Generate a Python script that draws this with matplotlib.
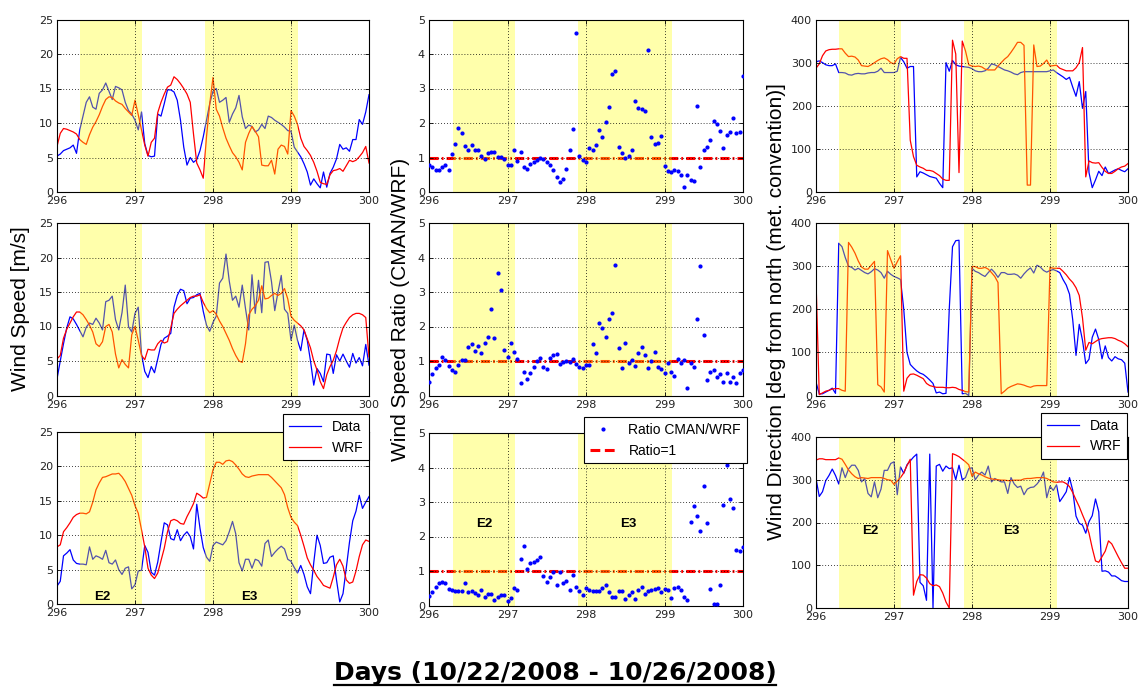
import numpy as np
import matplotlib
matplotlib.use('Agg')
import matplotlib.pyplot as plt
from matplotlib.lines import Line2D

W, H = 1140, 689

# hourly samples, day of year 296 -> 300
hours = np.arange(97)
days = 296 + hours / 24.0
xtick_vals = [296, 297, 298, 299, 300]
xtick_labels = ['296', '297', '298', '299', '300']

# event periods (shaded) and their names
events = [(296.3, 297.09), (297.9, 299.09)]
event_names = ['E2', 'E3']

# ---- wind speed [m/s] : CMAN data / WRF, three stations ----
spd_data_1 = [5.2, 5.5, 6.0, 6.2, 6.4, 6.8, 5.6, 9.0, 11.0, 13.0,
              13.8, 12.3, 12.0, 14.3, 14.8, 15.8, 14.6, 13.4, 15.3, 15.1,
              14.8, 13.0, 11.8, 11.3, 10.4, 9.0, 11.6, 7.0, 5.3, 5.1,
              5.2, 11.3, 11.0, 12.8, 14.8, 14.8, 14.5, 13.3, 10.4, 6.5,
              3.9, 5.0, 4.3, 4.7, 6.0, 8.0, 10.4, 12.8, 14.6, 15.0,
              13.0, 13.3, 13.7, 10.1, 11.3, 12.2, 14.0, 10.9, 9.2, 9.7,
              9.5, 8.7, 9.0, 9.8, 9.2, 11.0, 10.8, 10.4, 10.1, 9.8,
              9.4, 8.9, 8.8, 6.5, 5.8, 5.1, 4.1, 2.9, 1.0, 1.9,
              1.2, 0.6, 2.9, 0.7, 2.7, 3.6, 4.8, 6.9, 6.2, 6.4,
              5.9, 7.6, 7.6, 10.5, 9.8, 11.6, 14.1]
spd_wrf_1 = [6.6, 8.5, 9.2, 9.1, 8.9, 8.7, 8.4, 7.6, 7.2, 6.9,
             8.3, 9.4, 10.2, 11.2, 12.4, 13.4, 13.8, 13.7, 13.2, 12.9,
             12.7, 12.1, 11.6, 11.1, 13.3, 11.2, 9.0, 6.8, 5.2, 7.2,
             7.8, 11.5, 13.0, 14.2, 15.2, 15.5, 16.7, 16.3, 15.7, 15.0,
             14.2, 13.0, 8.4, 4.2, 3.2, 2.0, 8.0, 12.8, 16.6, 12.0,
             11.0, 9.3, 7.8, 6.7, 5.7, 5.1, 4.3, 3.2, 7.2, 8.5,
             9.5, 8.8, 8.0, 3.9, 3.8, 3.8, 4.6, 2.6, 6.2, 6.8,
             6.6, 5.5, 11.8, 11.0, 9.8, 7.8, 6.6, 6.0, 5.3, 4.3,
             3.0, 1.4, 1.2, 1.1, 2.5, 3.1, 3.2, 3.4, 3.0, 3.8,
             4.6, 4.4, 4.6, 5.1, 5.7, 6.6, 4.2]
spd_data_2 = [2.4, 5.0, 7.5, 9.8, 11.4, 11.1, 10.3, 9.4, 8.5, 9.9,
              10.5, 10.3, 11.2, 10.5, 9.5, 13.6, 13.8, 14.4, 11.0, 9.5,
              12.0, 16.0, 10.0, 9.2, 11.9, 12.8, 6.0, 3.5, 2.6, 4.2,
              3.3, 5.3, 7.4, 8.3, 8.6, 9.0, 12.8, 14.5, 15.4, 15.2,
              13.3, 14.1, 14.2, 14.6, 14.8, 12.2, 10.2, 9.3, 10.6, 11.5,
              16.3, 17.0, 20.5, 16.6, 13.8, 14.4, 12.8, 16.0, 12.6, 9.5,
              17.5, 11.9, 16.7, 12.0, 19.3, 19.4, 16.5, 12.3, 15.0, 17.4,
              12.5, 11.9, 8.0, 10.2, 8.0, 6.5, 9.5, 8.0, 5.0, 1.5,
              3.9, 3.2, 2.0, 6.0, 5.9, 3.2, 5.9, 5.0, 6.0, 5.0,
              4.1, 6.1, 4.7, 5.5, 4.3, 7.4, 4.4]
spd_wrf_2 = [5.3, 5.8, 8.3, 9.6, 10.5, 11.4, 12.1, 12.1, 11.7, 11.0,
             10.2, 9.2, 7.5, 7.1, 7.8, 10.0, 10.3, 9.2, 6.0, 4.0,
             5.2, 4.5, 4.0, 8.8, 10.0, 8.0, 5.8, 5.2, 6.7, 6.6,
             6.6, 7.5, 8.0, 7.6, 7.8, 9.8, 11.9, 12.5, 13.0, 13.4,
             13.8, 14.2, 14.4, 14.4, 14.6, 13.5, 12.6, 12.0, 12.3, 11.8,
             10.8, 10.0, 9.0, 8.0, 6.8, 5.8, 5.0, 4.8, 7.5, 11.7,
             12.5, 13.0, 13.8, 15.9, 14.0, 14.1, 14.5, 14.8, 14.5, 14.8,
             15.5, 14.0, 11.5, 10.9, 10.5, 10.1, 9.5, 8.2, 6.9, 5.0,
             3.7, 2.0, 1.0, 3.0, 4.2, 5.1, 6.5, 8.3, 9.8, 10.6,
             11.3, 11.7, 11.9, 11.9, 11.7, 11.3, 5.6]
spd_data_3 = [2.6, 3.3, 7.0, 7.4, 7.9, 6.4, 5.9, 5.8, 5.8, 5.7,
              8.3, 6.5, 7.0, 6.8, 6.5, 7.8, 6.0, 5.8, 6.4, 5.0,
              4.3, 5.2, 5.4, 2.2, 2.8, 4.8, 4.9, 8.5, 7.5, 4.6,
              4.2, 6.1, 9.0, 11.8, 11.5, 9.5, 9.3, 10.8, 9.2, 10.0,
              10.5, 9.8, 8.0, 14.5, 11.0, 8.2, 6.8, 6.2, 8.5, 9.0,
              8.8, 8.6, 9.2, 10.5, 12.0, 10.2, 6.0, 4.8, 6.5, 6.5,
              5.2, 6.5, 6.3, 5.5, 8.8, 9.3, 6.9, 7.5, 8.0, 8.4,
              8.0, 6.5, 6.2, 5.3, 4.5, 5.6, 4.3, 2.5, 1.5, 6.0,
              10.0, 8.5, 5.9, 6.0, 6.8, 7.0, 3.5, 0.3, 1.5, 5.2,
              9.0, 12.1, 13.5, 15.8, 13.9, 14.8, 15.6]
spd_wrf_3 = [8.3, 8.6, 10.5, 11.1, 11.8, 12.6, 13.0, 13.2, 13.2, 13.1,
             13.4, 14.8, 16.6, 17.6, 18.4, 18.5, 18.7, 18.9, 18.9, 19.0,
             18.5, 17.8, 16.8, 15.8, 14.3, 13.2, 10.8, 8.3, 5.2, 4.2,
             3.7, 4.5, 6.3, 8.1, 10.5, 12.1, 12.3, 12.1, 11.7, 11.6,
             12.7, 13.6, 14.6, 16.1, 15.8, 15.4, 15.5, 17.5, 19.5, 20.6,
             20.6, 20.3, 20.8, 20.9, 20.7, 20.2, 19.6, 18.9, 18.5, 18.4,
             18.6, 18.7, 18.8, 18.8, 18.8, 18.8, 18.4, 17.9, 17.4, 16.9,
             15.9, 14.0, 12.6, 11.9, 11.4, 10.0, 8.4, 6.7, 5.7, 4.9,
             4.0, 3.4, 2.7, 2.5, 2.3, 3.9, 5.7, 6.5, 5.5, 3.5,
             3.0, 3.2, 4.8, 6.9, 8.6, 9.3, 9.1]

# ---- wind speed ratio CMAN/WRF ----
ratio_1 = [0.79, 0.72, 0.65, 0.65, 0.72, 0.79, 0.65, 1.11, 1.40, 1.85,
           1.71, 1.32, 1.21, 1.35, 1.23, 1.23, 1.05, 0.96, 1.13, 1.15,
           1.15, 1.01, 1.01, 0.96, 0.77, 0.79, 1.23, 0.89, 1.15, 0.72,
           0.67, 0.80, 0.86, 0.94, 0.98, 0.97, 0.86, 0.79, 0.65, 0.43,
           0.28, 0.39, 0.67, 1.21, 1.82, 4.60, 1.03, 0.94, 0.87, 1.27,
           1.21, 1.37, 1.79, 1.59, 2.02, 2.46, 3.43, 3.52, 1.30, 1.13,
           1.00, 1.03, 1.21, 2.63, 2.43, 2.40, 2.34, 4.12, 1.59, 1.40,
           1.42, 1.63, 0.74, 0.60, 0.57, 0.63, 0.60, 0.50, 0.14, 0.48,
           0.34, 0.31, 2.50, 0.72, 1.23, 1.30, 1.50, 2.05, 1.98, 1.76,
           1.27, 1.66, 1.73, 2.14, 1.71, 1.73, 3.35]
ratio_2 = [0.38, 0.63, 0.79, 0.89, 1.13, 1.03, 0.86, 0.74, 0.69, 0.89,
           1.03, 1.03, 1.40, 1.49, 1.30, 1.44, 1.22, 1.51, 1.69, 2.52,
           1.66, 3.54, 3.07, 1.32, 1.11, 1.53, 1.27, 1.05, 0.36, 0.69,
           0.48, 0.65, 0.84, 1.01, 1.08, 0.82, 0.76, 1.08, 1.18, 1.20,
           0.91, 0.98, 1.01, 0.96, 1.05, 0.91, 0.84, 0.79, 0.89, 0.89,
           1.49, 1.24, 2.09, 1.97, 1.71, 2.21, 2.38, 3.78, 1.37, 0.79,
           1.51, 0.93, 1.03, 0.86, 1.22, 1.42, 1.18, 0.79, 1.01, 1.27,
           0.84, 0.76, 0.65, 0.95, 0.69, 0.57, 1.05, 0.95, 1.03, 0.21,
           0.93, 0.82, 2.21, 3.75, 1.75, 0.45, 0.67, 0.74, 0.53, 0.63,
           0.39, 0.65, 0.40, 0.53, 0.36, 0.65, 0.74]
ratio_3 = [0.28, 0.38, 0.53, 0.65, 0.67, 0.65, 0.48, 0.44, 0.43, 0.41,
           0.43, 0.65, 0.39, 0.43, 0.36, 0.31, 0.44, 0.26, 0.34, 0.34,
           0.16, 0.24, 0.29, 0.31, 0.12, 0.21, 0.50, 0.45, 1.35, 1.73,
           1.06, 1.23, 1.26, 1.31, 1.40, 0.86, 0.68, 0.82, 0.96, 0.60,
           0.96, 0.65, 0.70, 0.44, 0.87, 0.53, 0.41, 0.31, 0.50, 0.44,
           0.41, 0.41, 0.41, 0.50, 0.60, 0.39, 0.24, 0.26, 0.41, 0.41,
           0.19, 0.31, 0.39, 0.18, 0.44, 0.53, 0.34, 0.41, 0.44, 0.47,
           0.50, 0.39, 0.47, 0.44, 0.21, 0.50, 0.55, 0.44, 0.24, 0.16,
           2.41, 2.89, 2.58, 2.15, 3.47, 2.39, 0.47, 0.04, 0.05, 0.58,
           2.90, 4.08, 3.09, 2.82, 1.61, 1.57, 1.69]
ratio_ref = 1.0

# ---- wind direction [deg from north] ----
dir_data_1 = [302, 304, 300, 295, 293, 293, 297, 277, 277, 276,
              272, 271, 274, 275, 274, 274, 276, 277, 277, 280,
              287, 277, 277, 277, 277, 280, 312, 302, 287, 291,
              291, 35, 47, 44, 40, 36, 34, 32, 20, 10,
              300, 280, 305, 295, 292, 291, 290, 289, 286, 281,
              279, 279, 281, 287, 297, 295, 291, 287, 283, 281,
              278, 274, 272, 277, 279, 279, 279, 279, 279, 279,
              279, 279, 281, 283, 277, 272, 267, 261, 266, 243,
              222, 256, 194, 233, 45, 10, 28, 48, 38, 58,
              43, 47, 51, 54, 50, 47, 54]
dir_wrf_1 = [287, 297, 316, 327, 330, 331, 331, 332, 332, 322,
             314, 315, 313, 306, 293, 292, 291, 295, 300, 305,
             309, 311, 307, 300, 297, 309, 314, 310, 310, 120,
             82, 62, 58, 55, 50, 50, 48, 43, 38, 30,
             27, 27, 352, 320, 45, 350, 327, 295, 292, 291,
             292, 290, 285, 283, 283, 283, 292, 300, 308, 314,
             324, 335, 347, 347, 340, 16, 16, 341, 291, 292,
             298, 306, 292, 293, 294, 287, 284, 281, 281, 281,
             288, 300, 335, 35, 72, 68, 67, 68, 57, 48,
             43, 43, 48, 54, 58, 60, 66]
dir_data_2 = [31, 4, 4, 8, 12, 17, 5, 353, 345, 320,
              300, 297, 291, 295, 290, 285, 282, 287, 294, 291,
              285, 272, 288, 281, 276, 273, 269, 200, 100, 72,
              64, 57, 52, 49, 43, 36, 28, 6, 8, 4,
              5, 200, 345, 359, 360, 4, 5, 0, 295, 288,
              285, 280, 276, 285, 293, 285, 274, 285, 285, 281,
              281, 282, 279, 272, 282, 290, 296, 284, 302, 298,
              290, 286, 290, 292, 289, 285, 269, 256, 235, 175,
              93, 165, 128, 74, 84, 135, 154, 130, 85, 115,
              88, 80, 90, 85, 83, 75, 8]
dir_wrf_2 = [268, 2, 6, 10, 12, 15, 16, 16, 12, 10,
             355, 344, 330, 312, 298, 293, 293, 302, 311, 25,
             20, 8, 336, 315, 295, 310, 324, 10, 40, 49,
             50, 47, 43, 39, 28, 23, 21, 19, 19, 19,
             18, 18, 19, 18, 14, 12, 9, 8, 299, 299,
             295, 295, 297, 293, 285, 276, 262, 4, 10, 17,
             21, 24, 27, 26, 24, 21, 19, 22, 23, 23,
             23, 23, 297, 295, 295, 295, 288, 280, 270, 262,
             250, 232, 180, 105, 123, 120, 125, 130, 132, 133,
             134, 134, 132, 128, 125, 120, 113]
dir_data_3 = [303, 261, 272, 298, 310, 325, 310, 290, 328, 305,
              325, 334, 334, 322, 295, 303, 268, 260, 295, 258,
              278, 322, 322, 338, 342, 265, 330, 315, 335, 344,
              353, 360, 60, 52, 18, 360, 0, 332, 336, 320,
              332, 326, 328, 300, 334, 300, 305, 326, 328, 300,
              311, 318, 311, 332, 295, 303, 299, 295, 295, 268,
              305, 290, 282, 285, 265, 278, 282, 283, 290, 300,
              318, 258, 285, 275, 288, 249, 260, 272, 305, 275,
              215, 198, 194, 175, 202, 216, 255, 225, 86, 87,
              84, 75, 75, 70, 64, 62, 62]
dir_wrf_3 = [346, 349, 349, 347, 347, 347, 347, 351, 348, 336,
             323, 314, 307, 303, 305, 304, 303, 305, 305, 305,
             305, 303, 300, 299, 289, 297, 305, 316, 333, 348,
             30, 62, 78, 77, 70, 57, 52, 54, 50, 35,
             14, 0, 361, 358, 354, 348, 342, 335, 308, 318,
             314, 311, 307, 304, 302, 301, 300, 299, 299, 298,
             298, 299, 299, 299, 302, 303, 303, 304, 305, 305,
             305, 303, 299, 295, 294, 295, 295, 291, 284, 270,
             253, 237, 218, 200, 175, 140, 110, 107, 120, 133,
             157, 150, 135, 120, 106, 93, 93]

speed_data = [spd_data_1, spd_data_2, spd_data_3]
speed_wrf = [spd_wrf_1, spd_wrf_2, spd_wrf_3]
ratios = [ratio_1, ratio_2, ratio_3]
dir_data = [dir_data_1, dir_data_2, dir_data_3]
dir_wrf = [dir_wrf_1, dir_wrf_2, dir_wrf_3]

SANS = 'Liberation Sans'

fig = plt.figure(figsize=(11.4, 6.89), dpi=100)


def add_ax(x0, y0, x1, y1):
    # pixel box (top-left origin) -> figure fraction
    return fig.add_axes([x0 / W, 1 - y1 / H, (x1 - x0) / W, (y1 - y0) / H])


def style(ax, ymax, ystep):
    ax.set_xlim(296, 300)
    ax.set_ylim(0, ymax)
    ax.set_xticks(xtick_vals)
    ax.set_xticklabels(xtick_labels)
    yt = np.arange(0, ymax + ystep / 2, ystep)
    ax.set_yticks(yt)
    ax.set_yticklabels([str(int(v)) for v in yt])
    ax.set_axisbelow(False)
    ax.grid(True, color='black', linestyle=(0, (1, 2.5)), linewidth=0.6)
    ax.tick_params(direction='in', length=3, top=True, right=True,
                   labelsize=8, labelcolor='#222222', pad=3, width=0.6)
    for a, b in events:
        ax.axvspan(a, b, color='#ffff00', alpha=0.33, lw=0, zorder=2.2)
    for sp in ax.spines.values():
        sp.set_linewidth(0.8)


# pixel boxes for each panel
cols = [(57, 369), (429, 743), (816, 1128)]
rows = [[(19.5, 192), (223, 395.5), (432, 604)],
        [(19.5, 192), (223, 395.5), (433, 605.5)],
        [(19.5, 192), (223, 395.5), (437, 608)]]

legend_kw = dict(loc='upper left', bbox_transform=fig.transFigure, borderaxespad=0,
                 fancybox=False, framealpha=1, edgecolor='black',
                 prop={'family': SANS, 'size': 10})

# wind speed column
for i in range(3):
    ax = add_ax(cols[0][0], rows[0][i][0], cols[0][1], rows[0][i][1])
    l1, = ax.plot(days, speed_data[i], color='#0000ff', lw=0.9)
    l2, = ax.plot(days, speed_wrf[i], color='#ff0000', lw=0.9)
    style(ax, 25, 5)
    if i == 2:
        for name, xc in zip(event_names, [296.58, 298.47]):
            ax.text(xc, 1.0, name, ha='center', va='center', fontsize=9.5,
                    fontweight='bold', family=SANS, zorder=4)
        leg = ax.legend([l1, l2], ['Data', 'WRF'], bbox_to_anchor=(283 / W, 1 - 414 / H),
                        handlelength=2.3, **legend_kw)
        leg.get_frame().set_linewidth(0.8)

# ratio column
for i in range(3):
    ax = add_ax(cols[1][0], rows[1][i][0], cols[1][1], rows[1][i][1])
    ax.axhline(ratio_ref, color='#ff0000', lw=2.2, linestyle=(0, (3, 1, 0.6, 1)), zorder=2)
    pts, = ax.plot(days, ratios[i], '.', color='#0000ff', markersize=4, zorder=3)
    style(ax, 5, 1)
    if i == 2:
        for name, xc in zip(event_names, [296.70, 298.54]):
            ax.text(xc, 2.36, name, ha='center', va='center', fontsize=9.5,
                    fontweight='bold', family=SANS, zorder=4)
        ref_handle = Line2D([], [], color='#ff0000', lw=2.2, linestyle=(0, (3.2, 1.5)))
        leg = ax.legend([pts, ref_handle], ['Ratio CMAN/WRF', 'Ratio=1'],
                        bbox_to_anchor=(584 / W, 1 - 417 / H), numpoints=1, **legend_kw)
        leg.get_frame().set_linewidth(0.8)

# wind direction column
for i in range(3):
    ax = add_ax(cols[2][0], rows[2][i][0], cols[2][1], rows[2][i][1])
    l1, = ax.plot(days, dir_data[i], color='#0000ff', lw=0.9)
    l2, = ax.plot(days, dir_wrf[i], color='#ff0000', lw=0.9)
    style(ax, 400, 100)
    if i == 2:
        for name, xc in zip(event_names, [296.69, 298.51]):
            ax.text(xc, 179, name, ha='center', va='center', fontsize=9.5,
                    fontweight='bold', family=SANS, zorder=4)
        leg = ax.legend([l1, l2], ['Data', 'WRF'], bbox_to_anchor=(1041 / W, 1 - 413 / H),
                        handlelength=2.3, **legend_kw)
        leg.get_frame().set_linewidth(0.8)

# y labels (one per column)
ylab_kw = dict(rotation=90, ha='center', va='center', fontsize=15, family=SANS)
fig.text(21 / W, 1 - 309 / H, 'Wind Speed [m/s]', **ylab_kw)
fig.text(400 / W, 1 - 309 / H, 'Wind Speed Ratio (CMAN/WRF)', **ylab_kw)
fig.text(777 / W, 1 - 312 / H, 'Wind Direction [deg from north (met. convention)]', **ylab_kw)

# underlined x label
xl = fig.text(555 / W, 1 - 680 / H, 'Days (10/22/2008 - 10/26/2008)',
              ha='center', va='baseline', fontsize=18, fontweight='bold')
fig.canvas.draw()
bb = xl.get_window_extent()
fig.add_artist(Line2D([bb.x0 / W, bb.x1 / W], [1 - 685 / H, 1 - 685 / H],
                      transform=fig.transFigure, color='black', lw=1.6))

fig.savefig('out.png', dpi=100)
